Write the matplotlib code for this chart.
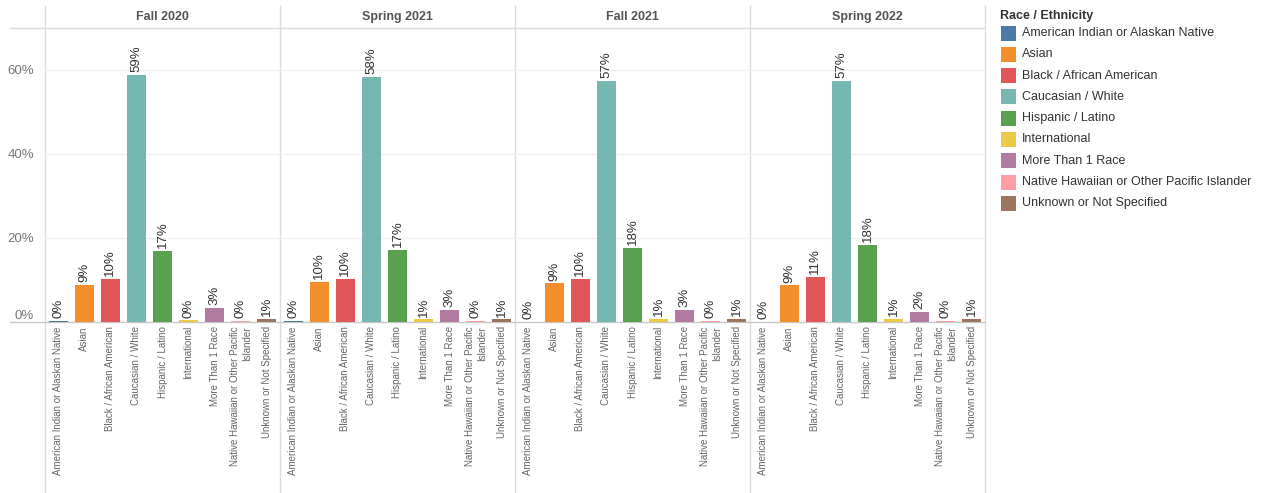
import matplotlib
matplotlib.use("Agg")
import matplotlib.pyplot as plt
from matplotlib.patches import Rectangle

plt.rcParams["font.family"] = ["Liberation Sans", "DejaVu Sans"]

# --- data (percent of enrolled students) ---
categories = [
    "American Indian or Alaskan Native",
    "Asian",
    "Black / African American",
    "Caucasian / White",
    "Hispanic / Latino",
    "International",
    "More Than 1 Race",
    "Native Hawaiian or Other Pacific Islander",
    "Unknown or Not Specified",
]
tick_labels = [
    "American Indian or Alaskan Native",
    "Asian",
    "Black / African American",
    "Caucasian / White",
    "Hispanic / Latino",
    "International",
    "More Than 1 Race",
    "Native Hawaiian or Other Pacific\nIslander",
    "Unknown or Not Specified",
]
terms = ["Fall 2020", "Spring 2021", "Fall 2021", "Spring 2022"]
fall_2020 = [0.2, 8.9, 10.2, 58.8, 16.9, 0.4, 3.3, 0.2, 0.7]
spring_2021 = [0.2, 9.6, 10.2, 58.3, 17.1, 0.6, 2.9, 0.2, 0.6]
fall_2021 = [0.1, 9.2, 10.2, 57.4, 17.6, 0.8, 2.9, 0.2, 0.7]
spring_2022 = [0.1, 8.7, 10.7, 57.4, 18.3, 0.8, 2.4, 0.2, 0.7]
term_values = [fall_2020, spring_2021, fall_2021, spring_2022]

# Tableau 10 palette
colors = ["#4e79a7", "#f28e2b", "#e15759", "#76b7b2", "#59a14f",
          "#edc948", "#b07aa1", "#ff9da7", "#9c755f"]

W, H = 1262, 493
fig = plt.figure(figsize=(W / 100, H / 100), dpi=100)

# overlay in pixel coordinates for the frame lines, headers and legend
ov = fig.add_axes([0, 0, 1, 1], zorder=0)
ov.set_xlim(0, W)
ov.set_ylim(H, 0)
ov.axis("off")

panel_left, panel_w = 45, 235
top_y, base_y = 28, 322

for i, (term, vals) in enumerate(zip(terms, term_values)):
    x0 = panel_left + i * panel_w
    ax = fig.add_axes([x0 / W, (H - base_y) / H, panel_w / W, (base_y - top_y) / H], zorder=2)
    ax.patch.set_alpha(0)
    xs = list(range(len(categories)))
    ax.bar(xs, vals, width=0.73, color=colors, zorder=3)
    for x, v in zip(xs, vals):
        ax.annotate(f"{v:.0f}%", (x, v), xytext=(0, 2), textcoords="offset points",
                    rotation=90, ha="center", va="bottom", fontsize=9.5, color="#333333")
    ax.set_xlim(-0.5, len(categories) - 0.5)
    ax.set_ylim(0, 70)
    ax.set_yticks([0, 20, 40, 60])
    ax.grid(axis="y", color="#f0f0f0", lw=1, zorder=0)
    ax.set_axisbelow(True)
    for s in ax.spines.values():
        s.set_visible(False)
    ax.set_xticks(xs)
    ax.set_xticklabels(tick_labels, rotation=90, fontsize=7, color="#666666",
                       va="top", ha="center", multialignment="right")
    ax.tick_params(axis="x", length=0, pad=3)
    ax.tick_params(axis="y", length=0, pad=8, labelsize=9.5, labelcolor="#777777")
    if i == 0:
        ax.set_yticklabels([f"{t}%" for t in [0, 20, 40, 60]])
        ax.get_yticklabels()[0].set_va("bottom")
    else:
        ax.set_yticklabels([])
    ov.text(x0 + panel_w / 2, 17, term, ha="center", va="center",
            fontsize=9, fontweight="bold", color="#555555")

# frame lines
for k in range(len(terms) + 1):
    xv = panel_left + k * panel_w
    ov.plot([xv, xv], [6, H], color="#dcdcdc", lw=1)
ov.plot([10, panel_left + len(terms) * panel_w], [top_y, top_y], color="#dcdcdc", lw=1)
ov.plot([10, panel_left + len(terms) * panel_w], [base_y, base_y], color="#c8c8c8", lw=1)

# legend
ov.text(1000, 16, "Race / Ethnicity", ha="left", va="center",
        fontsize=9, fontweight="bold", color="#333333")
for j, (cat, c) in enumerate(zip(categories, colors)):
    yc = 33 + j * 21.3
    ov.add_patch(Rectangle((1001, yc - 7.5), 15, 15, facecolor=c, edgecolor="none"))
    ov.text(1022, yc, cat, ha="left", va="center", fontsize=9, color="#333333")

fig.savefig("out.png", dpi=100)
